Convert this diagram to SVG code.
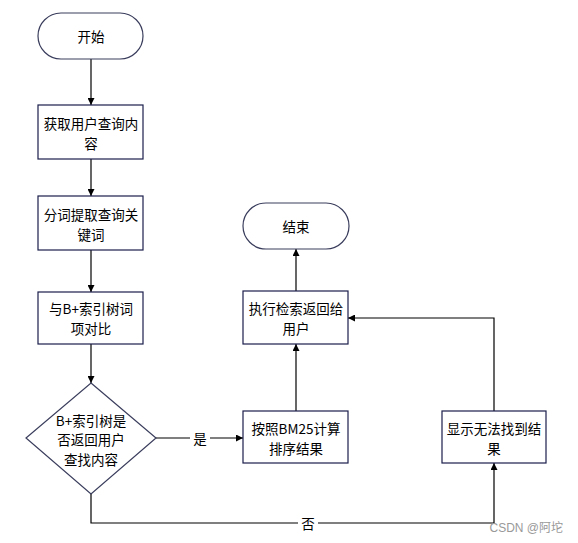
<svg xmlns="http://www.w3.org/2000/svg" width="578" height="543" viewBox="0 0 578 543">
<style>
.box{fill:#fff;stroke:#1b1f4b;stroke-width:1.2}
.term{fill:#fff;stroke:#3a3d5c;stroke-width:1.2}
.t{font-family:"Microsoft YaHei","Noto Sans CJK SC",sans-serif;font-size:13.5px;fill:#000;text-anchor:middle;dominant-baseline:central}
.ln{fill:none;stroke:#000;stroke-width:1.2}
</style>
<defs>
<marker id="ar" viewBox="0 0 10 10" refX="10" refY="5" markerWidth="7" markerHeight="7" orient="auto" markerUnits="userSpaceOnUse">
<path d="M0,0 L10,5 L0,10 z" fill="#000"/>
</marker>
</defs>
<rect width="578" height="543" fill="#fff"/>
<g id="connectors">
<path class="ln" d="M91,59 V105" marker-end="url(#ar)"/>
<path class="ln" d="M91,159 V196" marker-end="url(#ar)"/>
<path class="ln" d="M91,250 V292" marker-end="url(#ar)"/>
<path class="ln" d="M91,344 V383" marker-end="url(#ar)"/>
<path class="ln" d="M156,438 H243" marker-end="url(#ar)"/>
<rect x="190" y="430" width="20" height="16" fill="#fff"/>
<text class="t" x="200" y="438">是</text>
<path class="ln" d="M91,494 V523 H494 V463" marker-end="url(#ar)"/>
<rect x="298" y="515" width="20" height="16" fill="#fff"/>
<text class="t" x="308" y="523">否</text>
<path class="ln" d="M296,411 V344" marker-end="url(#ar)"/>
<path class="ln" d="M494,411 V318 H348" marker-end="url(#ar)"/>
<path class="ln" d="M296,291 V249" marker-end="url(#ar)"/>
</g>
<g id="start">
<rect class="term" x="38" y="13" width="105" height="46" rx="23" ry="23"/>
<text class="t" x="91" y="36">开始</text>
</g>
<g id="getquery">
<rect class="box" x="38" y="105" width="105" height="54"/>
<text class="t" x="91" y="123">获取用户查询内</text>
<text class="t" x="91" y="143">容</text>
</g>
<g id="tokenize">
<rect class="box" x="38" y="196" width="105" height="54"/>
<text class="t" x="91" y="214">分词提取查询关</text>
<text class="t" x="91" y="234">键词</text>
</g>
<g id="compare">
<rect class="box" x="38" y="292" width="105" height="52"/>
<text class="t" x="91" y="308">与B+索引树词</text>
<text class="t" x="91" y="328">项对比</text>
</g>
<g id="decision">
<path class="term" d="M91,383 L156,438 L91,494 L26,438 Z"/>
<text class="t" x="91" y="420">B+索引树是</text>
<text class="t" x="91" y="439">否返回用户</text>
<text class="t" x="91" y="459">查找内容</text>
</g>
<g id="bm25">
<rect class="box" x="243" y="411" width="105" height="52"/>
<text class="t" x="296" y="428">按照BM25计算</text>
<text class="t" x="296" y="448">排序结果</text>
</g>
<g id="notfound">
<rect class="box" x="442" y="411" width="104" height="52"/>
<text class="t" x="494" y="428">显示无法找到结</text>
<text class="t" x="494" y="448">果</text>
</g>
<g id="execute">
<rect class="box" x="243" y="291" width="105" height="53"/>
<text class="t" x="296" y="308">执行检索返回给</text>
<text class="t" x="296" y="328">用户</text>
</g>
<g id="end">
<rect class="term" x="243" y="203" width="106" height="46" rx="23" ry="23"/>
<text class="t" x="296" y="226">结束</text>
</g>
<text x="563" y="528" font-family="Arial,'Noto Sans CJK SC',sans-serif" font-size="12" fill="#999" text-anchor="end" dominant-baseline="central">CSDN @阿坨</text>
</svg>
